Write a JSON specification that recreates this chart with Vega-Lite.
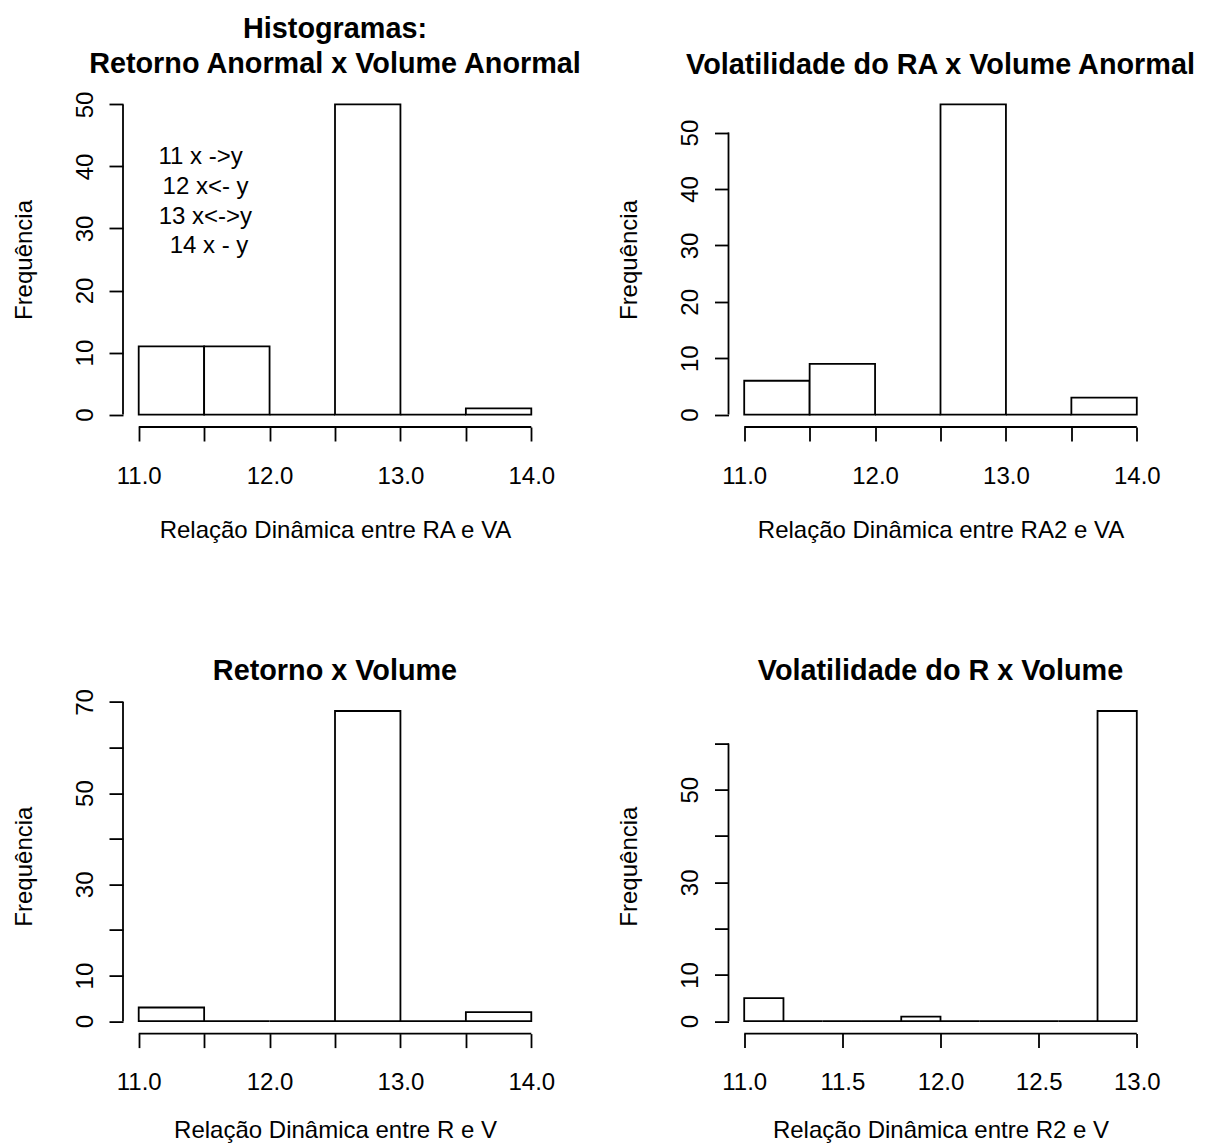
{
  "$schema": "https://vega.github.io/schema/vega-lite/v6.json",
  "padding": {"left": 12, "top": 15, "right": 5, "bottom": 5},
  "background": "white",
  "datasets": {
    "hist": [
      {"panel": "p1", "start": 11.0, "end": 11.5, "count": 11},
      {"panel": "p1", "start": 11.5, "end": 12.0, "count": 11},
      {"panel": "p1", "start": 12.0, "end": 12.5, "count": 0},
      {"panel": "p1", "start": 12.5, "end": 13.0, "count": 50},
      {"panel": "p1", "start": 13.0, "end": 13.5, "count": 0},
      {"panel": "p1", "start": 13.5, "end": 14.0, "count": 1},
      {"panel": "p2", "start": 11.0, "end": 11.5, "count": 6},
      {"panel": "p2", "start": 11.5, "end": 12.0, "count": 9},
      {"panel": "p2", "start": 12.0, "end": 12.5, "count": 0},
      {"panel": "p2", "start": 12.5, "end": 13.0, "count": 55},
      {"panel": "p2", "start": 13.0, "end": 13.5, "count": 0},
      {"panel": "p2", "start": 13.5, "end": 14.0, "count": 3},
      {"panel": "p3", "start": 11.0, "end": 11.5, "count": 3},
      {"panel": "p3", "start": 11.5, "end": 12.0, "count": 0},
      {"panel": "p3", "start": 12.0, "end": 12.5, "count": 0},
      {"panel": "p3", "start": 12.5, "end": 13.0, "count": 68},
      {"panel": "p3", "start": 13.0, "end": 13.5, "count": 0},
      {"panel": "p3", "start": 13.5, "end": 14.0, "count": 2},
      {"panel": "p4", "start": 11.0, "end": 11.2, "count": 5},
      {"panel": "p4", "start": 11.2, "end": 11.4, "count": 0},
      {"panel": "p4", "start": 11.4, "end": 11.6, "count": 0},
      {"panel": "p4", "start": 11.6, "end": 11.8, "count": 0},
      {"panel": "p4", "start": 11.8, "end": 12.0, "count": 1},
      {"panel": "p4", "start": 12.0, "end": 12.2, "count": 0},
      {"panel": "p4", "start": 12.2, "end": 12.4, "count": 0},
      {"panel": "p4", "start": 12.4, "end": 12.6, "count": 0},
      {"panel": "p4", "start": 12.6, "end": 12.8, "count": 0},
      {"panel": "p4", "start": 12.8, "end": 13.0, "count": 67}
    ],
    "notes": [
      {"x": 11.473, "y": 41.5, "label": "11 x ->y"},
      {"x": 11.511, "y": 36.7, "label": "12 x<- y"},
      {"x": 11.509, "y": 31.9, "label": "13 x<->y"},
      {"x": 11.537, "y": 27.2, "label": "14 x - y"}
    ],
    "one": [{}]
  },
  "columns": 2,
  "bounds": "flush",
  "spacing": {"row": 271.6, "column": 181.5},
  "concat": [
    {
      "width": 424, "height": 335,
      "title": {"text": ["Histogramas:", "Retorno Anormal x Volume Anormal"]},
      "layer": [
        {
          "data": {"name": "hist"},
          "transform": [{"filter": "datum.panel == 'p1'"}],
          "mark": {"type": "rect", "fill": "white", "stroke": "black", "strokeWidth": 1.8},
          "encoding": {
            "x": {"field": "start", "type": "quantitative", "scale": {"domain": [10.88, 14.12], "nice": false, "zero": false},
                  "axis": {"title": "Relação Dinâmica entre RA e VA", "values": [11, 11.5, 12, 12.5, 13, 13.5, 14], "labelExpr": "datum.value % 1 == 0 ? format(datum.value, '.1f') : ''"}},
            "x2": {"field": "end"},
            "y": {"field": "count", "type": "quantitative", "scale": {"domain": [-2, 52], "nice": false, "zero": false},
                  "axis": {"title": "Frequência", "values": [0, 10, 20, 30, 40, 50]}},
            "y2": {"datum": 0}
          }
        },
        {
          "data": {"name": "one"},
          "mark": {"type": "rule", "color": "black", "strokeWidth": 1.8},
          "encoding": {"x": {"datum": 10.88, "type": "quantitative"}, "y": {"datum": 0, "type": "quantitative"}, "y2": {"datum": 50}}
        },
        {
          "data": {"name": "one"},
          "mark": {"type": "rule", "color": "black", "strokeWidth": 1.8},
          "encoding": {"y": {"datum": -2, "type": "quantitative"}, "x": {"datum": 11, "type": "quantitative"}, "x2": {"datum": 14}}
        },
        {
          "data": {"name": "notes"},
          "mark": {"type": "text", "fontSize": 24, "align": "center", "baseline": "middle", "color": "black", "font": "Liberation Sans"},
          "encoding": {"x": {"field": "x", "type": "quantitative"}, "y": {"field": "y", "type": "quantitative"}, "text": {"field": "label"}}
        }
      ]
    },
    {
      "width": 424, "height": 335,
      "title": {"text": "Volatilidade do RA x Volume Anormal"},
      "layer": [
        {
          "data": {"name": "hist"},
          "transform": [{"filter": "datum.panel == 'p2'"}],
          "mark": {"type": "rect", "fill": "white", "stroke": "black", "strokeWidth": 1.8},
          "encoding": {
            "x": {"field": "start", "type": "quantitative", "scale": {"domain": [10.88, 14.12], "nice": false, "zero": false},
                  "axis": {"title": "Relação Dinâmica entre RA2 e VA", "values": [11, 11.5, 12, 12.5, 13, 13.5, 14], "labelExpr": "datum.value % 1 == 0 ? format(datum.value, '.1f') : ''"}},
            "x2": {"field": "end"},
            "y": {"field": "count", "type": "quantitative", "scale": {"domain": [-2.2, 57.2], "nice": false, "zero": false},
                  "axis": {"title": "Frequência", "values": [0, 10, 20, 30, 40, 50]}},
            "y2": {"datum": 0}
          }
        },
        {
          "data": {"name": "one"},
          "mark": {"type": "rule", "color": "black", "strokeWidth": 1.8},
          "encoding": {"x": {"datum": 10.88, "type": "quantitative"}, "y": {"datum": 0, "type": "quantitative"}, "y2": {"datum": 50}}
        },
        {
          "data": {"name": "one"},
          "mark": {"type": "rule", "color": "black", "strokeWidth": 1.8},
          "encoding": {"y": {"datum": -2.2, "type": "quantitative"}, "x": {"datum": 11, "type": "quantitative"}, "x2": {"datum": 14}}
        }
      ]
    },
    {
      "width": 424, "height": 335,
      "title": {"text": "Retorno x Volume", "offset": 2.5},
      "layer": [
        {
          "data": {"name": "hist"},
          "transform": [{"filter": "datum.panel == 'p3'"}],
          "mark": {"type": "rect", "fill": "white", "stroke": "black", "strokeWidth": 1.8},
          "encoding": {
            "x": {"field": "start", "type": "quantitative", "scale": {"domain": [10.88, 14.12], "nice": false, "zero": false},
                  "axis": {"title": "Relação Dinâmica entre R e V", "titleY": 104, "values": [11, 11.5, 12, 12.5, 13, 13.5, 14], "labelExpr": "datum.value % 1 == 0 ? format(datum.value, '.1f') : ''"}},
            "x2": {"field": "end"},
            "y": {"field": "count", "type": "quantitative", "scale": {"domain": [-2.72, 70.72], "nice": false, "zero": false},
                  "axis": {"title": "Frequência", "values": [0, 10, 20, 30, 40, 50, 60, 70], "labelExpr": "datum.value == 20 || datum.value == 40 || datum.value == 60 ? '' : datum.label"}},
            "y2": {"datum": 0}
          }
        },
        {
          "data": {"name": "one"},
          "mark": {"type": "rule", "color": "black", "strokeWidth": 1.8},
          "encoding": {"x": {"datum": 10.88, "type": "quantitative"}, "y": {"datum": 0, "type": "quantitative"}, "y2": {"datum": 70}}
        },
        {
          "data": {"name": "one"},
          "mark": {"type": "rule", "color": "black", "strokeWidth": 1.8},
          "encoding": {"y": {"datum": -2.72, "type": "quantitative"}, "x": {"datum": 11, "type": "quantitative"}, "x2": {"datum": 14}}
        }
      ]
    },
    {
      "width": 424, "height": 335,
      "title": {"text": "Volatilidade do R x Volume"},
      "layer": [
        {
          "data": {"name": "hist"},
          "transform": [{"filter": "datum.panel == 'p4'"}],
          "mark": {"type": "rect", "fill": "white", "stroke": "black", "strokeWidth": 1.8},
          "encoding": {
            "x": {"field": "start", "type": "quantitative", "scale": {"domain": [10.92, 13.08], "nice": false, "zero": false},
                  "axis": {"title": "Relação Dinâmica entre R2 e V", "titleY": 104, "values": [11, 11.5, 12, 12.5, 13], "labelExpr": "format(datum.value, '.1f')"}},
            "x2": {"field": "end"},
            "y": {"field": "count", "type": "quantitative", "scale": {"domain": [-2.68, 69.68], "nice": false, "zero": false},
                  "axis": {"title": "Frequência", "values": [0, 10, 20, 30, 40, 50, 60], "labelExpr": "datum.value == 20 || datum.value == 40 || datum.value == 60 ? '' : datum.label"}},
            "y2": {"datum": 0}
          }
        },
        {
          "data": {"name": "one"},
          "mark": {"type": "rule", "color": "black", "strokeWidth": 1.8},
          "encoding": {"x": {"datum": 10.92, "type": "quantitative"}, "y": {"datum": 0, "type": "quantitative"}, "y2": {"datum": 60}}
        },
        {
          "data": {"name": "one"},
          "mark": {"type": "rule", "color": "black", "strokeWidth": 1.8},
          "encoding": {"y": {"datum": -2.68, "type": "quantitative"}, "x": {"datum": 11, "type": "quantitative"}, "x2": {"datum": 13}}
        }
      ]
    }
  ],
  "config": {
    "font": "Liberation Sans",
    "view": {"stroke": null},
    "title": {"font": "Liberation Sans", "fontSize": 28.8, "fontWeight": "bold", "color": "black", "anchor": "middle", "frame": "group", "baseline": "alphabetic", "lineHeight": 34.6, "offset": 12.5},
    "axis": {
      "grid": false, "domain": false, "tickSize": 14, "tickWidth": 1.8, "tickColor": "black",
      "labelFont": "Liberation Sans", "labelFontSize": 24, "labelColor": "black", "labelOverlap": false, "labelFlush": false,
      "titleFont": "Liberation Sans", "titleFontSize": 24, "titleFontWeight": "normal", "titleColor": "black", "titleBaseline": "alphabetic"
    },
    "axisX": {"labelBaseline": "alphabetic", "labelPadding": 42, "labelAngle": 0, "labelAlign": "center", "titleX": 212, "titleY": 110, "titleAlign": "center", "titleAngle": 0},
    "axisY": {"labelAngle": -90, "labelAlign": "center", "labelBaseline": "alphabetic", "labelPadding": 17, "titleAngle": -90, "titleAlign": "center", "titleX": -92, "titleY": 167.5}
  }
}
